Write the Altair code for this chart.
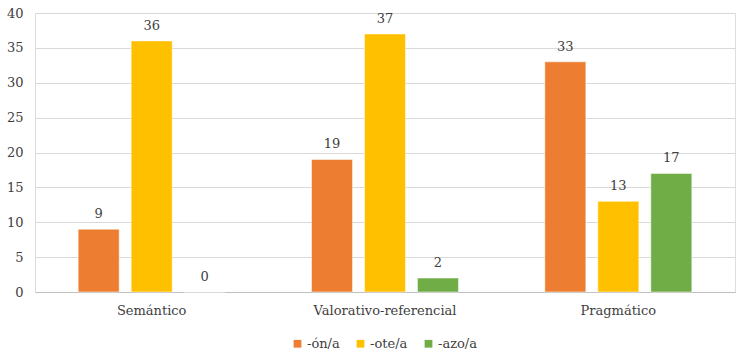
import altair as alt
import pandas as pd

categories = ["Semántico", "Valorativo-referencial", "Pragmático"]
series = ["-ón/a", "-ote/a", "-azo/a"]
values_on = [9, 19, 33]
values_ote = [36, 37, 13]
values_azo = [0, 2, 17]
colors = ["#ED7D31", "#FFC000", "#70AD47"]

rows = []
for s, vals in zip(series, [values_on, values_ote, values_azo]):
    for c, v in zip(categories, vals):
        rows.append({"categoria": c, "sufijo": s, "valor": v})
df = pd.DataFrame(rows)

FONT = "DejaVu Serif"
SIZE = 13

x = alt.X(
    "categoria:N",
    sort=categories,
    title=None,
    scale=alt.Scale(paddingInner=0.37, paddingOuter=0.185),
    axis=alt.Axis(
        labelAngle=0, ticks=False, domain=True, domainColor="#BFBFBF",
        labelFont=FONT, labelFontSize=SIZE, labelColor="#404040", labelPadding=12,
    ),
)
xoff = alt.XOffset("sufijo:N", sort=series, scale=alt.Scale(paddingInner=0.226))
y = alt.Y(
    "valor:Q",
    title=None,
    scale=alt.Scale(domain=[0, 40]),
    axis=alt.Axis(
        values=list(range(0, 45, 5)), domain=False, ticks=False,
        gridColor="#D9D9D9", gridWidth=1, labelFont=FONT, labelFontSize=SIZE,
        labelColor="#404040", labelPadding=12,
    ),
)
color = alt.Color(
    "sufijo:N",
    sort=series,
    scale=alt.Scale(domain=series, range=colors),
    legend=alt.Legend(
        title=None, orient="none", direction="horizontal",
        legendX=256, legendY=324, symbolType="square", symbolSize=60,
        symbolStrokeWidth=0, labelFont=FONT, labelFontSize=SIZE,
        labelColor="#404040", columnPadding=14, labelOffset=3,
    ),
)

base = alt.Chart(df).encode(x=x, xOffset=xoff, y=y)

bars = base.mark_bar(stroke="white", strokeWidth=0.5).encode(color=color)
labels = base.mark_text(
    dy=-8, baseline="bottom", font=FONT, fontSize=SIZE, color="#404040"
).encode(text="valor:Q")

chart = (
    (bars + labels)
    .properties(
        width=700, height=279,
        autosize=alt.AutoSizeParams(type="none"),
        padding={"left": 35, "top": 13, "right": 7, "bottom": 63},
    )
    .configure_view(stroke=None)
    .configure(background="white")
)

chart.save("out.html", embed_options={"renderer": "svg", "actions": False})
